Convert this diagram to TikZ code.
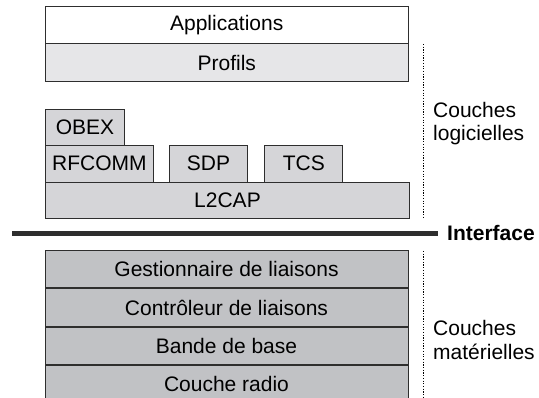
\documentclass[tikz,border=0pt]{standalone}
\usepackage{fontspec}
\setmainfont{Liberation Sans}
\usetikzlibrary{positioning}

\definecolor{edge}{HTML}{2E2E2E}
\definecolor{pale}{HTML}{E6E6E8}
\definecolor{softgray}{HTML}{D5D5D8}
\definecolor{hwgray}{HTML}{C1C2C5}

\tikzset{
  layer/.style={draw=edge, line width=1pt, rectangle, anchor=south west, inner sep=0pt,
    font=\fontsize{21}{24}\selectfont},
  sidetext/.style={anchor=west, align=left, inner sep=0pt, font=\fontsize{21}{23.5}\selectfont},
  sepline/.style={draw=black, line width=1.2pt, dash pattern=on 1.2pt off 1.5pt}
}

\begin{document}
\begin{tikzpicture}[x=1pt, y=1pt]
    \useasboundingbox (0,0) rectangle (539,398);

    % couches logicielles
    \node[layer, fill=white, minimum width=362.5, minimum height=37] (appli) at (45,353.7) {Applications};
    \node[layer, fill=pale, minimum width=362.5, minimum height=37.7] (profils) at (45,316) {Profils};

    \node[layer, fill=softgray, minimum width=79, minimum height=36] (obex) at (45,252.3) {OBEX};
    \node[layer, fill=softgray, minimum width=107.7, minimum height=37] (rfcomm) at (45,215.3) {RFCOMM};
    \node[layer, fill=softgray, minimum width=78.6, minimum height=37] (sdp) at (168.7,215.3) {SDP};
    \node[layer, fill=softgray, minimum width=78, minimum height=37] (tcs) at (264.3,215.3) {TCS};
    \node[layer, fill=softgray, minimum width=364, minimum height=36.3] (l2cap) at (45,179) {L2CAP};

    % interface
    \node[anchor=west, inner sep=0pt, font=\fontsize{21}{24}\selectfont\bfseries] (iface) at (447,164.5) {Interface};
    \coordinate (ifleft) at (12,164.5);
    \draw[line width=4.5pt, edge] (ifleft) -- ([xshift=-9pt]iface.west);

    % couches materielles
    \node[layer, fill=hwgray, minimum width=363, minimum height=37.4] (gest) at (44.5,109.6) {Gestionnaire de liaisons};
    \node[layer, fill=hwgray, minimum width=363, minimum height=37.4, below=0pt of gest.south west, anchor=north west] (ctrl) {Contrôleur de liaisons};
    \node[layer, fill=hwgray, minimum width=363, minimum height=37.4, below=0pt of ctrl.south west, anchor=north west] (bande) {Bande de base};
    \node[layer, fill=hwgray, minimum width=363, minimum height=37.4, below=0pt of bande.south west, anchor=north west] (radio) {Couche radio};

    % separations
    \coordinate (logtop) at (423.3,354);
    \coordinate (logbot) at (423.3,179);
    \coordinate (mattop) at (423.3,147);
    \coordinate (matbot) at (423.3,0);
    \draw[sepline] (logtop) -- (logbot);
    \draw[sepline] (mattop) -- (matbot);

    \node[sidetext] (logi) at (433,274.6) {Couches\\logicielles};
    \node[sidetext] (mate) at (433,58.2) {Couches\\matérielles};
\end{tikzpicture}
\end{document}
